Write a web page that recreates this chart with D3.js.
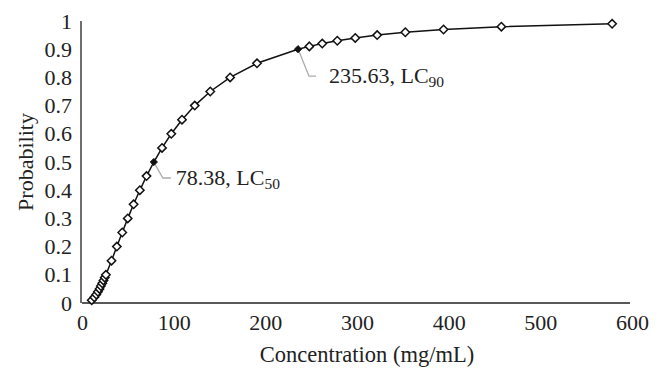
<!DOCTYPE html>
<html>
<head>
<meta charset="utf-8">
<script src="https://cdn.jsdelivr.net/npm/d3@7"></script>
<style>
  html, body { margin: 0; padding: 0; background: #fff; }
  svg { display: block; }
  text { font-family: "Liberation Serif", "Times New Roman", serif; fill: #222; }
</style>
</head>
<body>
<svg id="chart" width="662" height="386"></svg>
<script>
// ---- data ----
const concentration = [10.6, 13.4, 15.6, 17.4, 19.1, 20.6, 22.1, 23.4, 24.8, 26.1,
  32.2, 38.0, 43.9, 49.9, 56.3, 63.1, 70.4, 78.38, 87.3, 97.4, 109.1, 123.0, 139.9,
  161.6, 190.9, 235.63, 248.0, 262.1, 278.5, 298.1, 322.0, 352.7, 394.4, 457.5, 578.3];
const probability = [0.01, 0.02, 0.03, 0.04, 0.05, 0.06, 0.07, 0.08, 0.09, 0.10,
  0.15, 0.20, 0.25, 0.30, 0.35, 0.40, 0.45, 0.50, 0.55, 0.60, 0.65, 0.70, 0.75,
  0.80, 0.85, 0.90, 0.91, 0.92, 0.93, 0.94, 0.95, 0.96, 0.97, 0.98, 0.99];
const lcConc = [78.38, 235.63];
const lcProb = [0.50, 0.90];
const lcLabel = ["78.38, LC", "235.63, LC"];
const lcSub = ["50", "90"];
const xTicks = [0, 100, 200, 300, 400, 500, 600];
const yTicks = [0, 0.1, 0.2, 0.3, 0.4, 0.5, 0.6, 0.7, 0.8, 0.9, 1];
const xTitle = "Concentration (mg/mL)";
const yTitle = "Probability";

// ---- layout ----
const svg = d3.select("#chart");
const x = d3.scaleLinear().domain([0, 600]).range([82, 632]);
const y = d3.scaleLinear().domain([0, 1]).range([303, 21]);
const FS = 22;

// axes
const xAxis = d3.axisBottom(x).tickValues(xTicks).tickSize(0).tickPadding(11)
  .tickFormat(d3.format("d"));
const gx = svg.append("g").attr("transform", `translate(0,${y(0)})`).call(xAxis);
gx.select(".domain").attr("d", `M${x(0)},0H${x(600) - 2}`).attr("stroke", "#222").attr("stroke-width", 1.3);
gx.selectAll("text").attr("font-size", FS).attr("font-family", "Liberation Serif").attr("fill", "#222");

const yAxis = d3.axisLeft(y).tickValues(yTicks).tickSize(0).tickPadding(9)
  .tickFormat(d => d3.format("")(+d.toFixed(1)));
const gy = svg.append("g").attr("transform", `translate(${x(0) - 1},0)`).call(yAxis);
gy.select(".domain").attr("d", `M0,${y(1)}V${y(0)}`).attr("stroke", "#222").attr("stroke-width", 1.3);
gy.selectAll("text").attr("font-size", FS).attr("font-family", "Liberation Serif").attr("fill", "#222");

// titles
svg.append("text").attr("x", (x(0) + x(600)) / 2 + 10).attr("y", 362)
  .attr("text-anchor", "middle").attr("font-size", FS + 0.5).text(xTitle);
svg.append("text").attr("transform", `translate(33,${(y(0) + y(1)) / 2}) rotate(-90)`)
  .attr("text-anchor", "middle").attr("font-size", FS).text(yTitle);

// data line
const pts = concentration.map((c, i) => [c, probability[i]]);
svg.append("path").datum(pts)
  .attr("fill", "none").attr("stroke", "#111").attr("stroke-width", 1.5)
  .attr("d", d3.line().x(d => x(d[0])).y(d => y(d[1])));

// leader lines + labels (per-label offsets in pixels)
const leaderDrop = [16, 27];
const leaderRun = [9, 11];
const leaderFlat = [8, 7];
const textGap = [5, 13];
lcConc.forEach((c, i) => {
  const px = x(c), py = y(lcProb[i]);
  const ex = px + leaderRun[i], ey = py + leaderDrop[i];
  svg.append("path")
    .attr("d", `M${px + 1},${py + 2}L${ex},${ey}H${ex + leaderFlat[i]}`)
    .attr("fill", "none").attr("stroke", "#aaa").attr("stroke-width", 1.3);
  const t = svg.append("text").attr("x", ex + leaderFlat[i] + textGap[i]).attr("y", ey + 7).attr("font-size", FS);
  t.append("tspan").text(lcLabel[i]);
  t.append("tspan").attr("font-size", 15.5).attr("dy", 4).text(lcSub[i]);
});

// diamond markers
const r = 4.2;
const diamond = `M0,${-r}L${r},0L0,${r}L${-r},0Z`;
const isLC = (c) => lcConc.includes(c);
svg.append("g").selectAll("path").data(pts.filter(d => !isLC(d[0]))).join("path")
  .attr("transform", d => `translate(${x(d[0])},${y(d[1])})`)
  .attr("d", diamond).attr("fill", "#fff").attr("stroke", "#111").attr("stroke-width", 1.5);
const rs = 3.6;
svg.append("g").selectAll("path").data(pts.filter(d => isLC(d[0]))).join("path")
  .attr("transform", d => `translate(${x(d[0])},${y(d[1])})`)
  .attr("d", `M0,${-rs}L${rs},0L0,${rs}L${-rs},0Z`).attr("fill", "#111").attr("stroke", "#111").attr("stroke-width", 1);
</script>
</body>
</html>
